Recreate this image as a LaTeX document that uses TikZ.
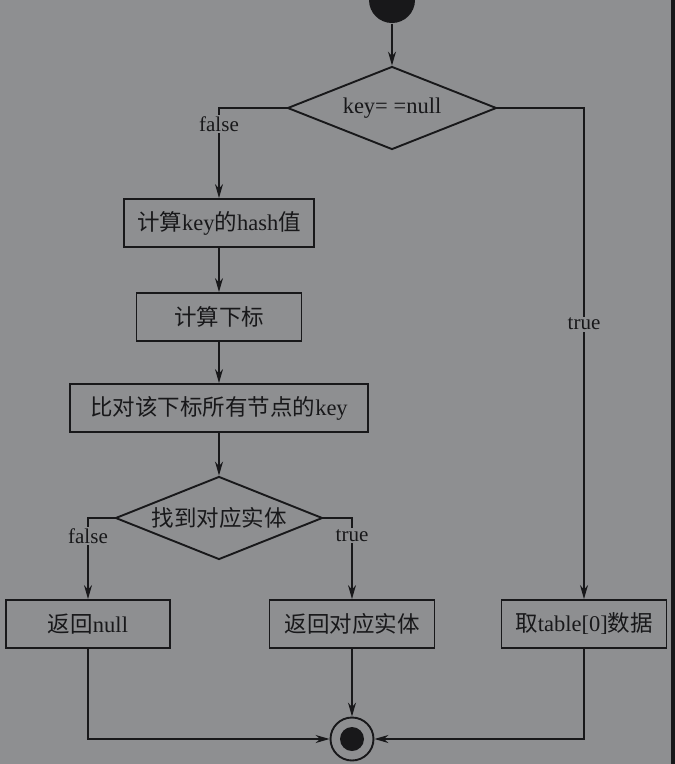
\documentclass[tikz,border=0pt]{standalone}
\usepackage{fontspec}
\setmainfont{Liberation Serif}
\newfontfamily\cjk{Noto Sans CJK SC}
\usetikzlibrary{shapes.geometric,arrows.meta}
\definecolor{bg}{RGB}{142,143,145}
\definecolor{ink}{RGB}{24,24,26}
\tikzset{>={Stealth[length=14pt,width=8pt]}}
\newcommand\zh[1]{{\cjk #1}}

\begin{document}
\begin{tikzpicture}[x=1pt,y=-1pt,ink,line width=1.4pt,
    box/.style={draw,line width=1.9pt,minimum height=48,inner sep=0,font=\fontsize{22.5}{26}\selectfont},
    choice/.style={draw,diamond,aspect=2.5,line width=1.9pt,minimum width=207,minimum height=83,inner sep=0,font=\fontsize{22.5}{26}\selectfont},
    lbl/.style={fill=bg,inner sep=1.5pt,font=\fontsize{21}{24}\selectfont}]
    \useasboundingbox (0,0) rectangle (675,764);
    \fill[bg] (0,0) rectangle (675,764);
    \fill[ink] (671,0) rectangle (675,764);

    % start / decision on key
    \node[circle,fill,minimum size=46,inner sep=0] (start) at (392,0) {};
    \node[choice,minimum width=209] (keynull) at (392,108) {key= =null};

    % hash path
    \node[box,minimum width=190] (hash) at (219,223) {\zh{计算}key\zh{的}hash\zh{值}};
    \node[box,minimum width=165] (index) at (219,317) {\zh{计算下标}};
    \node[box,minimum width=298] (compare) at (219,408) {\zh{比对该下标所有节点的}key};
    \node[choice] (found) at (219,518) {\zh{找到对应实体}};

    % results
    \node[box,minimum width=164] (retnull) at (88,624) {\zh{返回}null};
    \node[box,minimum width=165] (retent) at (352,624) {\zh{返回对应实体}};
    \node[box,minimum width=165] (table) at (584,624) {\zh{取}table[0]\zh{数据}};

    \node[circle,draw,line width=1.9pt,minimum size=43,inner sep=0] (stop) at (352,739) {};
    \fill (stop.center) circle (12);

    \draw[->] (start) -- (keynull);
    \draw[->] (keynull.west) -| node[lbl,pos=.59] {false} (hash.north);
    \draw[->] (keynull.east) -| node[lbl,pos=.72] {true} (table.north);
    \draw[->] (hash) -- (index);
    \draw[->] (index) -- (compare);
    \draw[->] (compare) -- (found);
    \draw[->] (found.west) -| node[lbl,pos=.61] {false} (retnull.north);
    \draw[->] (found.east) -| node[lbl,pos=.61] {true} (retent.north);
    \draw[->] (retnull.south) |- (stop.west);
    \draw[->] (retent.south) -- (stop.north);
    \draw[->] (table.south) |- (stop.east);
\end{tikzpicture}
\end{document}
